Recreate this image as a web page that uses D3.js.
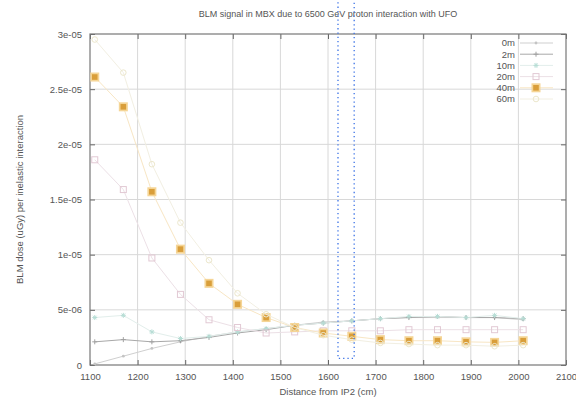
<!DOCTYPE html>
<html>
<head>
<meta charset="utf-8">
<script src="https://cdn.jsdelivr.net/npm/d3@7"></script>
<style>
  body { margin: 0; background: #fff; }
  svg { font-family: "Liberation Sans", Arial, sans-serif; }
</style>
</head>
<body>
<div id="chart"></div>
<script>
// Distances along the beam line (cm) where the dose was sampled
const distances = [1110, 1170, 1230, 1290, 1350, 1410, 1470, 1530, 1590, 1650, 1710, 1770, 1830, 1890, 1950, 2010];

// BLM dose per inelastic interaction, one array per UFO offset
const dose0m  = [0.1e-6, 0.8e-6, 1.5e-6, 2.1e-6, 2.6e-6, 3.0e-6, 3.3e-6, 3.6e-6, 3.9e-6, 4.0e-6, 4.2e-6, 4.3e-6, 4.3e-6, 4.3e-6, 4.3e-6, 4.1e-6];
const dose2m  = [2.1e-6, 2.3e-6, 2.1e-6, 2.2e-6, 2.5e-6, 2.9e-6, 3.2e-6, 3.6e-6, 3.8e-6, 4.0e-6, 4.2e-6, 4.3e-6, 4.4e-6, 4.3e-6, 4.3e-6, 4.2e-6];
const dose10m = [4.3e-6, 4.5e-6, 3.0e-6, 2.4e-6, 2.6e-6, 3.0e-6, 3.3e-6, 3.6e-6, 3.8e-6, 4.0e-6, 4.2e-6, 4.4e-6, 4.4e-6, 4.3e-6, 4.5e-6, 4.2e-6];
const dose20m = [1.86e-5, 1.59e-5, 9.7e-6, 6.4e-6, 4.1e-6, 3.4e-6, 2.9e-6, 3.0e-6, 3.1e-6, 3.1e-6, 3.1e-6, 3.2e-6, 3.2e-6, 3.2e-6, 3.2e-6, 3.2e-6];
const dose40m = [2.61e-5, 2.34e-5, 1.57e-5, 1.05e-5, 7.4e-6, 5.5e-6, 4.3e-6, 3.4e-6, 2.9e-6, 2.6e-6, 2.3e-6, 2.2e-6, 2.2e-6, 2.1e-6, 2.05e-6, 2.2e-6];
const dose60m = [2.95e-5, 2.65e-5, 1.82e-5, 1.29e-5, 9.5e-6, 6.5e-6, 4.6e-6, 3.4e-6, 2.7e-6, 2.3e-6, 2.0e-6, 1.9e-6, 1.8e-6, 1.8e-6, 1.7e-6, 1.8e-6];

const seriesNames = ["0m", "2m", "10m", "20m", "40m", "60m"];
const seriesValues = [dose0m, dose2m, dose10m, dose20m, dose40m, dose60m];

// Tick values for both axes
const xTicks = [1100, 1200, 1300, 1400, 1500, 1600, 1700, 1800, 1900, 2000, 2100];
const yTicks = [0, 5e-6, 1e-5, 1.5e-5, 2e-5, 2.5e-5, 3e-5];
const yTickLabels = ["0", "5e-06", "1e-05", "1.5e-05", "2e-05", "2.5e-05", "3e-05"];

// Highlighted distance window (dotted box)
const highlightRange = [1621, 1655];
const highlightBottom = 6e-7;

const width = 576, height = 401;
const margin = {left: 90, right: 10, top: 34, bottom: 36};

const svg = d3.select("#chart").append("svg")
              .attr("width", width)
              .attr("height", height)
              .style("overflow", "visible");

const xScale = d3.scaleLinear().domain([1100, 2100]).range([margin.left, width - margin.right]);
const yScale = d3.scaleLinear().domain([0, 3e-5]).range([height - margin.bottom, margin.top]);

// Grid lines
svg.append("g").selectAll("line")
   .data(xTicks.slice(1, -1))
   .enter().append("line")
   .attr("x1", d => xScale(d)).attr("x2", d => xScale(d))
   .attr("y1", yScale(0)).attr("y2", yScale(3e-5))
   .attr("stroke", "#d8d8d8").attr("stroke-width", 1);
svg.append("g").selectAll("line")
   .data(yTicks.slice(1, -1))
   .enter().append("line")
   .attr("x1", xScale(1100)).attr("x2", xScale(2100))
   .attr("y1", d => yScale(d)).attr("y2", d => yScale(d))
   .attr("stroke", "#d8d8d8").attr("stroke-width", 1);

// Axes with inward ticks on all four sides
const tickColor = "#666";
svg.append("g")
   .attr("transform", "translate(0," + yScale(0) + ")")
   .call(d3.axisBottom(xScale).tickValues(xTicks).tickSizeInner(-5).tickSizeOuter(0).tickPadding(8).tickFormat(d3.format("d")));
svg.append("g")
   .attr("transform", "translate(0," + yScale(3e-5) + ")")
   .call(d3.axisTop(xScale).tickValues(xTicks).tickSizeInner(-5).tickSizeOuter(0).tickFormat(""));
svg.append("g")
   .attr("transform", "translate(" + xScale(1100) + ",0)")
   .call(d3.axisLeft(yScale).tickValues(yTicks).tickSizeInner(-5).tickSizeOuter(0).tickPadding(8)
           .tickFormat((d, i) => yTickLabels[i]));
svg.append("g")
   .attr("transform", "translate(" + xScale(2100) + ",0)")
   .call(d3.axisRight(yScale).tickValues(yTicks).tickSizeInner(-5).tickSizeOuter(0).tickFormat(""));

svg.selectAll(".domain").remove();
svg.selectAll(".tick line").attr("stroke", tickColor);
svg.selectAll(".tick text").attr("fill", "#555").style("font-size", "9.5px").style("font-family", "Liberation Sans, Arial, sans-serif");

// Frame
svg.append("rect")
   .attr("x", xScale(1100)).attr("y", yScale(3e-5))
   .attr("width", xScale(2100) - xScale(1100))
   .attr("height", yScale(0) - yScale(3e-5))
   .attr("fill", "none").attr("stroke", "#777").attr("stroke-width", 1.2);

// Series styles (pale, as in the original rendering)
const styles = [
    {line: "#cfcfcf", marker: "dot",    color: "#c4c4c4"},
    {line: "#a8a8a8", marker: "plus",   color: "#a0a0a0"},
    {line: "#e2eeeb", marker: "star",   color: "#b6ddd5"},
    {line: "#ece0e6", marker: "square", color: "#e2c9d4"},
    {line: "#f8e6c4", marker: "filled", color: "#d99e3a"},
    {line: "#f2efe2", marker: "circle", color: "#ece7cc"}
];

function drawMarker(g, kind, color, x, y) {
    if (kind === "filled") {
        g.append("rect").attr("x", x - 4.5).attr("y", y - 4.5).attr("width", 9).attr("height", 9)
         .attr("fill", "#f5d596");
        g.append("rect").attr("x", x - 2.8).attr("y", y - 2.8).attr("width", 5.6).attr("height", 5.6)
         .attr("fill", color);
    } else if (kind === "square") {
        g.append("rect").attr("x", x - 3).attr("y", y - 3).attr("width", 6).attr("height", 6)
         .attr("fill", "none").attr("stroke", color).attr("stroke-width", 1);
    } else if (kind === "plus") {
        g.append("path").attr("d", `M${x - 2.5},${y}h5M${x},${y - 2.5}v5`).attr("stroke", color).attr("stroke-width", 1);
    } else if (kind === "star") {
        g.append("path").attr("d", `M${x - 2.5},${y}h5M${x},${y - 2.5}v5M${x - 1.8},${y - 1.8}l3.6,3.6M${x - 1.8},${y + 1.8}l3.6,-3.6`)
         .attr("stroke", color).attr("stroke-width", 1);
    } else if (kind === "circle") {
        g.append("circle").attr("cx", x).attr("cy", y).attr("r", 2.8).attr("fill", "none").attr("stroke", color);
    } else {
        g.append("circle").attr("cx", x).attr("cy", y).attr("r", 1.4).attr("fill", color);
    }
}

const line = d3.line().x(d => xScale(d[0])).y(d => yScale(d[1]));
const plot = svg.append("g");

seriesValues.forEach(function (values, i) {
    const pts = distances.map((d, j) => [d, values[j]]);
    plot.append("path")
        .datum(pts)
        .attr("d", line)
        .attr("fill", "none")
        .attr("stroke", styles[i].line)
        .attr("stroke-width", 1);
    const g = plot.append("g");
    pts.forEach(p => drawMarker(g, styles[i].marker, styles[i].color, xScale(p[0]), yScale(p[1])));
});

// Legend
const legend = svg.append("g");
seriesNames.forEach(function (name, i) {
    const y = 43 + i * 11.2;
    legend.append("text")
          .attr("x", 515).attr("y", y).attr("dy", "0.35em")
          .attr("text-anchor", "end")
          .attr("fill", "#555").style("font-size", "9.5px")
          .text(name);
    legend.append("line")
          .attr("x1", 520).attr("x2", 553).attr("y1", y).attr("y2", y)
          .attr("stroke", styles[i].line).attr("stroke-width", 1);
    drawMarker(legend, styles[i].marker, styles[i].color, 536, y);
});

// Title and axis labels
svg.append("text")
   .attr("x", (xScale(1100) + xScale(2100)) / 2).attr("y", 17)
   .attr("text-anchor", "middle").attr("fill", "#555").style("font-size", "9px")
   .text("BLM signal in MBX due to 6500 GeV proton interaction with UFO");
svg.append("text")
   .attr("x", (xScale(1100) + xScale(2100)) / 2).attr("y", 395)
   .attr("text-anchor", "middle").attr("fill", "#555").style("font-size", "9.5px")
   .text("Distance from IP2 (cm)");
svg.append("text")
   .attr("transform", "translate(23," + (yScale(0) + yScale(3e-5)) / 2 + ") rotate(-90)")
   .attr("text-anchor", "middle").attr("fill", "#555").style("font-size", "9.5px")
   .text("BLM dose (uGy) per inelastic interaction");

// Dotted highlight box around the 1650 cm sample
svg.append("path")
   .attr("d", `M${xScale(highlightRange[0])},-2V${yScale(highlightBottom)}H${xScale(highlightRange[1])}V-2`)
   .attr("fill", "none")
   .attr("stroke", "#3b72e6")
   .attr("stroke-width", 1.3)
   .attr("stroke-dasharray", "1.3,3");
</script>
</body>
</html>
